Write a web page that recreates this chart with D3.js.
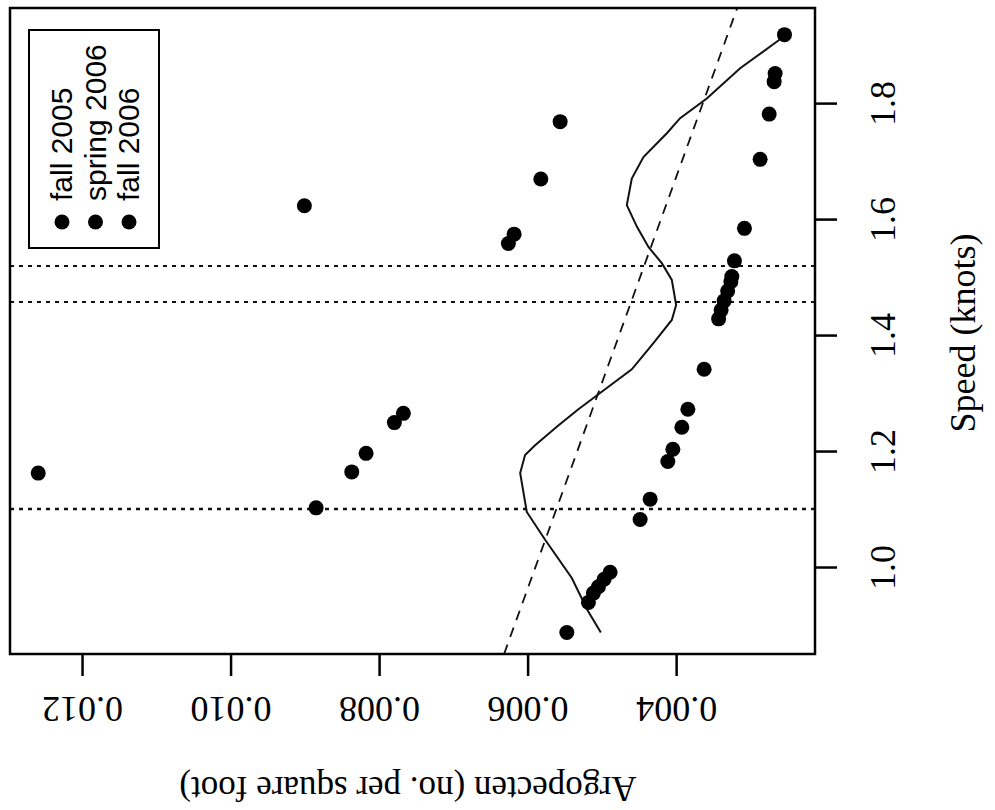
<!DOCTYPE html>
<html>
<head>
<meta charset="utf-8">
<script src="https://cdn.jsdelivr.net/npm/d3@7"></script>
<style>
  body { margin: 0; background: #fff; }
  svg { display: block; }
</style>
</head>
<body>
<svg id="chart" width="995" height="810"></svg>
<script>
// survey names, same filled dot for all three
let seriesNames = ["fall 2005", "spring 2006", "fall 2006"]

// [speed (knots), Argopecten (no. per square foot)]
let fall2005 = [
  [1.918, 0.002541], [1.851, 0.002667], [1.837, 0.002680], [1.781, 0.002747],
  [1.703, 0.002869], [1.584, 0.003080], [1.528, 0.003215], [1.501, 0.003250],
  [1.492, 0.003263], [1.476, 0.003306], [1.459, 0.003354], [1.443, 0.003394],
  [1.428, 0.003428]
]
let spring2006 = [
  [1.341, 0.003623], [1.272, 0.003842], [1.241, 0.003923], [1.203, 0.004044],
  [1.182, 0.004112], [1.117, 0.004350], [1.082, 0.004485], [0.991, 0.004889],
  [0.979, 0.004970], [0.966, 0.005046], [0.955, 0.005114], [0.939, 0.005181],
  [0.887, 0.005472]
]
let fall2006 = [
  [1.162, 0.012590], [1.102, 0.008848], [1.164, 0.008368], [1.196, 0.008175],
  [1.249, 0.007794], [1.265, 0.007673], [1.623, 0.009006], [1.558, 0.006259],
  [1.574, 0.006182], [1.669, 0.005822], [1.768, 0.005562]
]

// smoother through the points
let smoothSpeed = [0.887, 0.926, 0.981, 1.047, 1.095, 1.162, 1.193, 1.210, 1.242, 1.272,
  1.300, 1.341, 1.386, 1.426, 1.452, 1.495, 1.524, 1.552, 1.587, 1.624, 1.670, 1.707,
  1.748, 1.774, 1.808, 1.860, 1.910]
let smoothDensity = [0.005014, 0.005195, 0.005405, 0.005764, 0.006011, 0.006100, 0.006034,
  0.005899, 0.005607, 0.005316, 0.005024, 0.004597, 0.004306, 0.004058, 0.004000, 0.004058,
  0.004193, 0.004373, 0.004529, 0.004664, 0.004597, 0.004440, 0.004125, 0.003946, 0.003587,
  0.003138, 0.002600]

// linear fit: density = intercept + slope * speed
let fitIntercept = 0.008712
let fitSlope = -0.002818

let speedLines = [1.10, 1.457, 1.519]

let speedTicks = [1.0, 1.2, 1.4, 1.6, 1.8]
let densityTicks = [0.004, 0.006, 0.008, 0.010, 0.012]

let box = {left: 10, right: 815, top: 8, bottom: 654}
let serif = "'Liberation Serif', 'Times New Roman', serif"
let sans = "'Liberation Sans', Arial, sans-serif"

let svg = d3.select("#chart")

// plot is drawn turned a quarter: density runs right-to-left, speed bottom-to-top
let x = d3.scaleLinear()
          .domain([0.00213, 0.01297])
          .range([box.right, box.left])
let y = d3.scaleLinear()
          .domain([0.85, 1.964])
          .range([box.bottom, box.top])

svg.append("clipPath")
   .attr("id", "plotClip")
   .append("rect")
   .attr("x", box.left).attr("y", box.top)
   .attr("width", box.right - box.left)
   .attr("height", box.bottom - box.top)

let plot = svg.append("g").attr("clip-path", "url(#plotClip)")

plot.selectAll(".speedLine")
    .data(speedLines)
    .enter()
    .append("line")
    .attr("x1", box.left).attr("x2", box.right)
    .attr("y1", d => y(d)).attr("y2", d => y(d))
    .attr("stroke", "#111")
    .attr("stroke-width", (d, i) => i == 0 ? 2.6 : 2)
    .attr("stroke-dasharray", "4,5")

let fitEnds = y.domain()
plot.append("line")
    .attr("x1", x(fitIntercept + fitSlope * fitEnds[0]))
    .attr("y1", y(fitEnds[0]))
    .attr("x2", x(fitIntercept + fitSlope * fitEnds[1]))
    .attr("y2", y(fitEnds[1]))
    .attr("stroke", "#111")
    .attr("stroke-width", 1.8)
    .attr("stroke-dasharray", "10,8")

let smooth = d3.line()
               .x((d, i) => x(smoothDensity[i]))
               .y(d => y(d))
plot.append("path")
    .datum(smoothSpeed)
    .attr("d", smooth)
    .attr("fill", "none")
    .attr("stroke", "#111")
    .attr("stroke-width", 2)

let allSeries = [fall2005, spring2006, fall2006]
allSeries.forEach(function(s, k){
    plot.selectAll(".pt" + k)
        .data(s)
        .enter()
        .append("circle")
        .attr("cx", d => x(d[1]))
        .attr("cy", d => y(d[0]))
        .attr("r", 7.5)
        .attr("fill", "#000")
})

svg.append("rect")
   .attr("x", box.left).attr("y", box.top)
   .attr("width", box.right - box.left)
   .attr("height", box.bottom - box.top)
   .attr("fill", "none")
   .attr("stroke", "#000")
   .attr("stroke-width", 2.5)

// density axis, labels upside down
let xAxis = svg.append("g")
               .attr("transform", `translate(0,${box.bottom})`)
               .call(d3.axisBottom(x).tickValues(densityTicks).tickFormat(d3.format(".3f")).tickSize(22))
xAxis.attr("font-family", null)
xAxis.select(".domain").remove()
xAxis.selectAll("line").attr("stroke", "#000").attr("stroke-width", 2.5)
xAxis.selectAll("text")
     .attr("y", 0).attr("dy", null)
     .attr("transform", "translate(0,43) rotate(180)")
     .attr("text-anchor", "middle")
     .style("font-family", serif)
     .style("font-size", "36px")
     .attr("fill", "#000")

// speed axis, labels turned
let yAxis = svg.append("g")
               .attr("transform", `translate(${box.right},0)`)
               .call(d3.axisRight(y).tickValues(speedTicks).tickFormat(d3.format(".1f")).tickSize(22))
yAxis.attr("font-family", null)
yAxis.select(".domain").remove()
yAxis.selectAll("line").attr("stroke", "#000").attr("stroke-width", 2.5)
yAxis.selectAll("text")
     .attr("x", 0).attr("dy", null)
     .attr("transform", "translate(80,0) rotate(-90)")
     .attr("text-anchor", "middle")
     .style("font-family", serif)
     .style("font-size", "36px")
     .attr("fill", "#000")

svg.append("text")
   .attr("transform", "translate(408,777) rotate(180)")
   .attr("text-anchor", "middle")
   .style("font-family", serif)
   .style("font-size", "35px")
   .text("Argopecten (no. per square foot)")

svg.append("text")
   .attr("transform", "translate(975,333) rotate(-90)")
   .attr("text-anchor", "middle")
   .style("font-family", serif)
   .style("font-size", "36px")
   .text("Speed (knots)")

// legend
let legend = svg.append("g")
legend.append("rect")
      .attr("x", 29).attr("y", 30)
      .attr("width", 130).attr("height", 218)
      .attr("fill", "#fff")
      .attr("stroke", "#000")
      .attr("stroke-width", 2)

let items = legend.selectAll(".item")
                  .data(seriesNames)
                  .enter()
                  .append("g")
                  .attr("transform", (d, i) => `translate(${72 + i * 33.5},0)`)
items.append("circle")
     .attr("cx", -10).attr("cy", 222)
     .attr("r", 7.5)
     .attr("fill", "#000")
items.append("text")
     .attr("transform", "translate(0,201) rotate(-90)")
     .style("font-family", sans)
     .style("font-size", "30px")
     .text(d => d)
</script>
</body>
</html>
